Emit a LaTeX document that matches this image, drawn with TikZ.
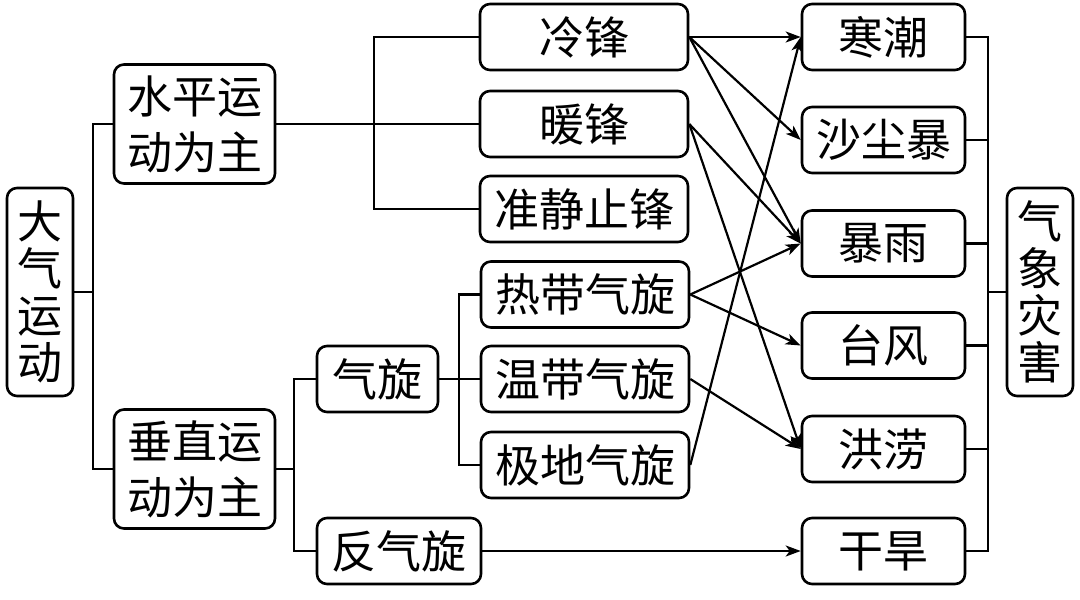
\documentclass[tikz,border=0pt]{standalone}
\usepackage{fontspec}
\newfontfamily\cjk{Noto Sans CJK SC}
\usetikzlibrary{positioning,arrows.meta}

\begin{document}
\begin{tikzpicture}[x=0.5pt,y=-0.5pt]
            \useasboundingbox (0,0) rectangle (1080,599);
            \begin{scope}[every node/.style={draw,rounded corners=5pt,line width=1.3pt,inner sep=0pt,align=center,
                          font=\cjk\fontsize{22.5}{28}\selectfont,minimum width=104pt,minimum height=33pt}]
                \node[minimum width=33pt,minimum height=104pt,font=\cjk\fontsize{22.5}{23.5}\selectfont] (DQ) at (40,292) {大\\气\\运\\动};
                \node[minimum width=80.5pt,minimum height=59.5pt] (SP) at (194.5,124) {水平运\\动为主};
                \node[minimum width=80.5pt,minimum height=59.5pt] (CZ) at (194.5,469) {垂直运\\动为主};
                \node (LF) at (584,37) {冷锋};
                \node (NF) at (584,124) {暖锋};
                \node (ZJ) at (584,209) {准静止锋};
                \node (RD) at (585,294.5) {热带气旋};
                \node (WD) at (585,379) {温带气旋};
                \node (JD) at (585,465) {极地气旋};
                \node[minimum width=60.5pt] (QX) at (377.5,379) {气旋};
                \node[minimum width=82pt] (FQ) at (399,551) {反气旋};
                \node[minimum width=81.5pt] (HC) at (883.5,37) {寒潮};
                \node[minimum width=81.5pt] (SC) at (883.5,140) {沙尘暴};
                \node[minimum width=81.5pt] (BY) at (883.5,243.5) {暴雨};
                \node[minimum width=81.5pt] (TF) at (883.5,345.5) {台风};
                \node[minimum width=81.5pt] (HL) at (883.5,449) {洪涝};
                \node[minimum width=81.5pt] (GH) at (883.5,551) {干旱};
                \node[minimum width=33pt,minimum height=104pt,font=\cjk\fontsize{22.5}{23.5}\selectfont] (QH) at (1040,292) {气\\象\\灾\\害};
            \end{scope}

            \begin{scope}[line width=1.1pt]
                \draw (SP.west) -- ++(-20,0) |- (DQ.east);
                \draw (CZ.west) -- ++(-20,0) |- (DQ.east);
                \draw (SP.east) -- (NF.west);
                \draw (LF.west) -- ++(-105,0) |- (ZJ.west);
                \draw (QX.west) -- ++(-22,0) |- (CZ.east);
                \draw (FQ.west) -- ++(-22,0) |- (CZ.east);
                \draw (QX.east) -- (WD.west);
                \draw (RD.west) -- ++(-21,0) |- (JD.west);
                \foreach \n in {HC,SC,BY,TF,HL,GH}
                    \draw (\n.east) -- ++(22,0) |- (QH.west);
            \end{scope}

            \begin{scope}[>={Stealth[length=7.5pt,width=5.5pt,inset=2pt]},
                          every edge/.style={draw=black,line width=1.1pt}]
                \path [->] (LF.east) edge (HC.west);
                \path [->] (LF.east) edge (SC.west);
                \path [->] (LF.east) edge (BY.west);
                \path [->] (NF.east) edge (BY.west);
                \path [->] (NF.east) edge (HL.west);
                \path [->] (RD.east) edge (BY.west);
                \path [->] (RD.east) edge (TF.west);
                \path [->] (WD.east) edge (HL.west);
                \path [->] (JD.east) edge (HC.west);
                \path [->] (FQ.east) edge (GH.west);
            \end{scope}
        \end{tikzpicture}
\end{document}
